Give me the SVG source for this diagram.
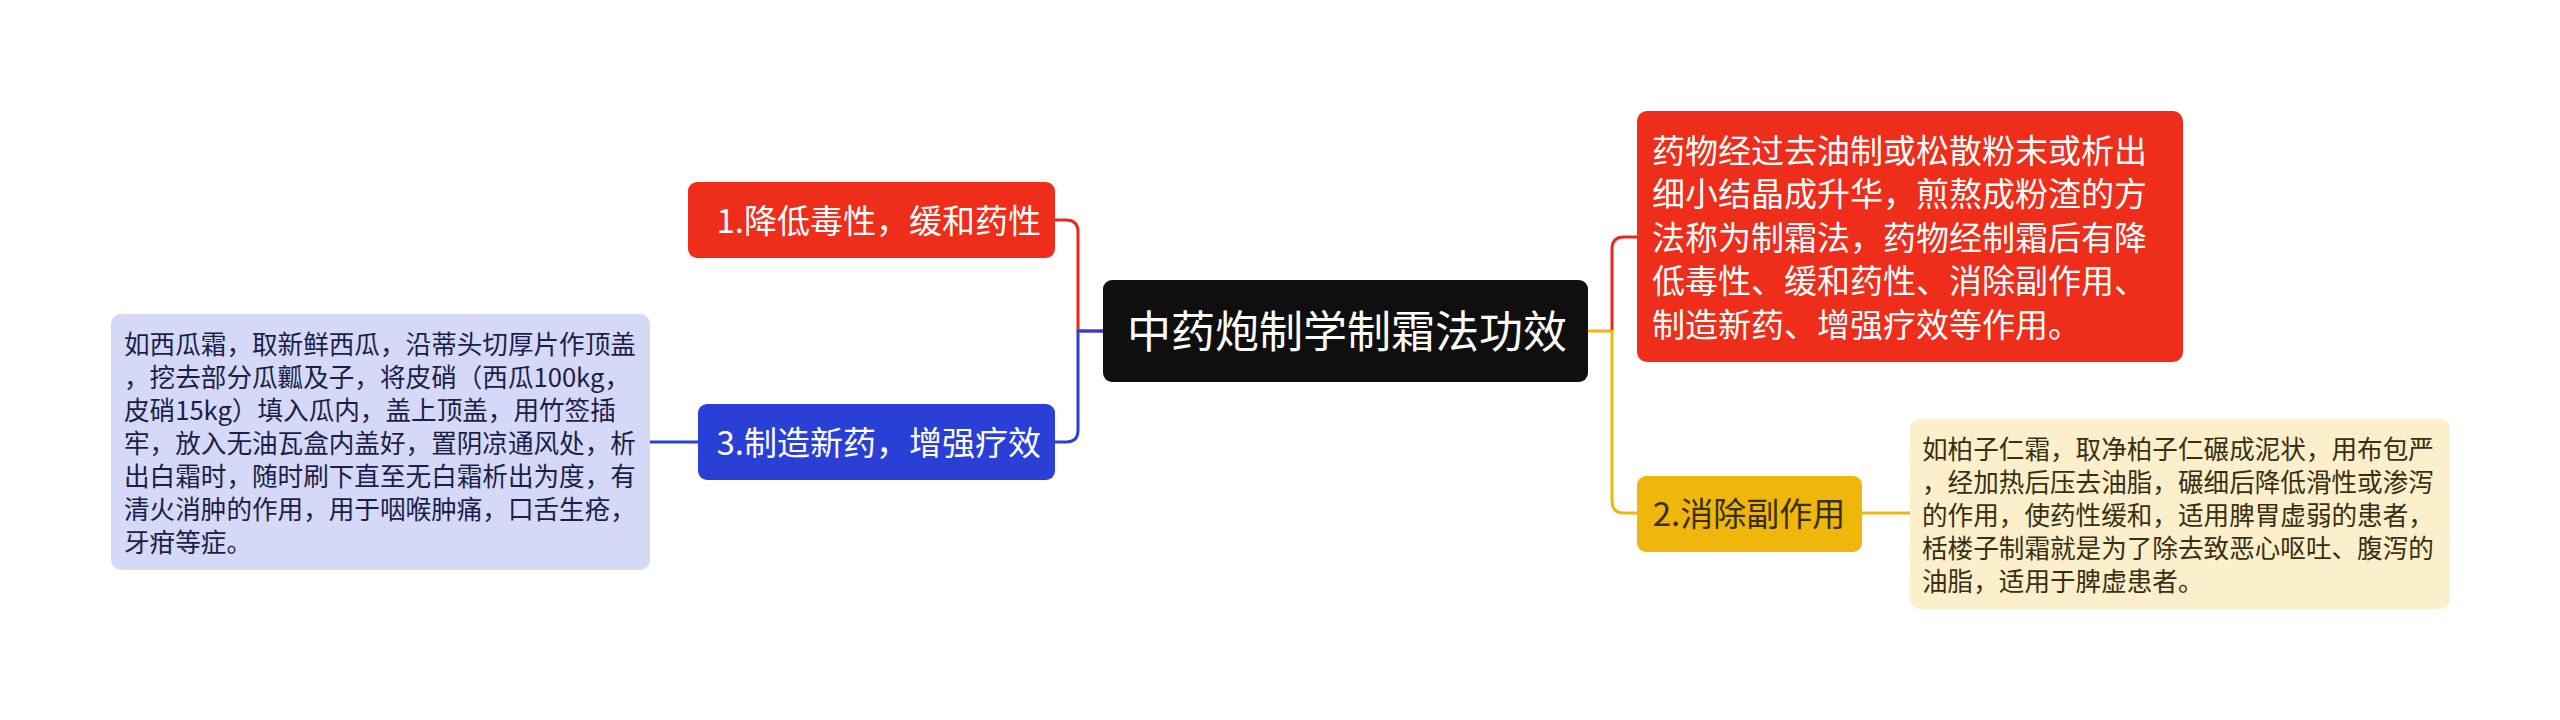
<svg xmlns="http://www.w3.org/2000/svg" width="2560" height="720" viewBox="0 0 2560 720">
<style>
text{font-family:"Noto Sans CJK SC","Noto Sans",sans-serif;}
.c{fill:none;stroke-width:3;stroke-linecap:round;stroke-linejoin:round;}
.w{fill:#ffffff;}
.n{font-size:33px;}
.leaf{font-size:25.6px;}
</style>
<rect width="2560" height="720" fill="#ffffff"/>
<g id="connectors">
<path class="c" stroke="#e8291a" d="M1103,331 H1078 V232 Q1078,220 1066,220 H1055"/>
<path class="c" stroke="#2a3fd6" d="M1103,331 H1078 V430 Q1078,442 1066,442 H1055"/>
<path class="c" stroke="#2a3fd6" d="M698,442 H650"/>
<path class="c" stroke="#efb70c" d="M1588,331 H1612"/>
<path class="c" stroke="#e8291a" d="M1612,331 V249 Q1612,237 1624,237 H1637"/>
<path class="c" stroke="#efb70c" d="M1612,331 V501 Q1612,513 1624,513 H1637"/>
<path class="c" stroke="#efb70c" d="M1862,513 H1910"/>
</g>
<g id="center">
<rect x="1103" y="280" width="485" height="102" rx="9" fill="#0f0f0f"/>
<text class="w" x="1347" y="348" font-size="44" text-anchor="middle">中药炮制学制霜法功效</text>
</g>
<g id="node1">
<rect x="688" y="182" width="367" height="76" rx="9" fill="#ee2d1b"/>
<text class="w n" x="1041" y="232.5" text-anchor="end">1.降低毒性，缓和药性</text>
</g>
<g id="node3">
<rect x="698" y="404" width="357" height="76" rx="9" fill="#2a3fd6"/>
<text class="w n" x="1041" y="454.5" text-anchor="end">3.制造新药，增强疗效</text>
</g>
<g id="node2">
<rect x="1637" y="476" width="225" height="76" rx="9" fill="#efb70c"/>
<text class="n" x="1749" y="525.5" text-anchor="middle" fill="#3a2f0a">2.消除副作用</text>
</g>
<g id="leaf-left">
<rect x="111" y="314" width="539" height="256" rx="10" fill="#d5d8f6"/>
<text class="leaf" fill="#1b1e4a">
<tspan x="124" y="354">如西瓜霜，取新鲜西瓜，沿蒂头切厚片作顶盖</tspan>
<tspan x="124" y="387">，挖去部分瓜瓤及子，将皮硝（西瓜100kg，</tspan>
<tspan x="124" y="420">皮硝15kg）填入瓜内，盖上顶盖，用竹签插</tspan>
<tspan x="124" y="453">牢，放入无油瓦盒内盖好，置阴凉通风处，析</tspan>
<tspan x="124" y="486">出白霜时，随时刷下直至无白霜析出为度，有</tspan>
<tspan x="124" y="519">清火消肿的作用，用于咽喉肿痛，口舌生疮，</tspan>
<tspan x="124" y="552">牙疳等症。</tspan>
</text>
</g>
<g id="leaf-red">
<rect x="1637" y="111" width="546" height="251" rx="10" fill="#ee2d1b"/>
<text class="w n">
<tspan x="1652" y="162.5">药物经过去油制或松散粉末或析出</tspan>
<tspan x="1652" y="206">细小结晶成升华，煎熬成粉渣的方</tspan>
<tspan x="1652" y="249.5">法称为制霜法，药物经制霜后有降</tspan>
<tspan x="1652" y="293">低毒性、缓和药性、消除副作用、</tspan>
<tspan x="1652" y="336.5">制造新药、增强疗效等作用。</tspan>
</text>
</g>
<g id="leaf-right">
<rect x="1910" y="419" width="540" height="190" rx="10" fill="#fcefcc"/>
<text class="leaf" fill="#3a2f10">
<tspan x="1922" y="459">如柏子仁霜，取净柏子仁碾成泥状，用布包严</tspan>
<tspan x="1922" y="492">，经加热后压去油脂，碾细后降低滑性或渗泻</tspan>
<tspan x="1922" y="525">的作用，使药性缓和，适用脾胃虚弱的患者，</tspan>
<tspan x="1922" y="558">栝楼子制霜就是为了除去致恶心呕吐、腹泻的</tspan>
<tspan x="1922" y="591">油脂，适用于脾虚患者。</tspan>
</text>
</g>
</svg>
